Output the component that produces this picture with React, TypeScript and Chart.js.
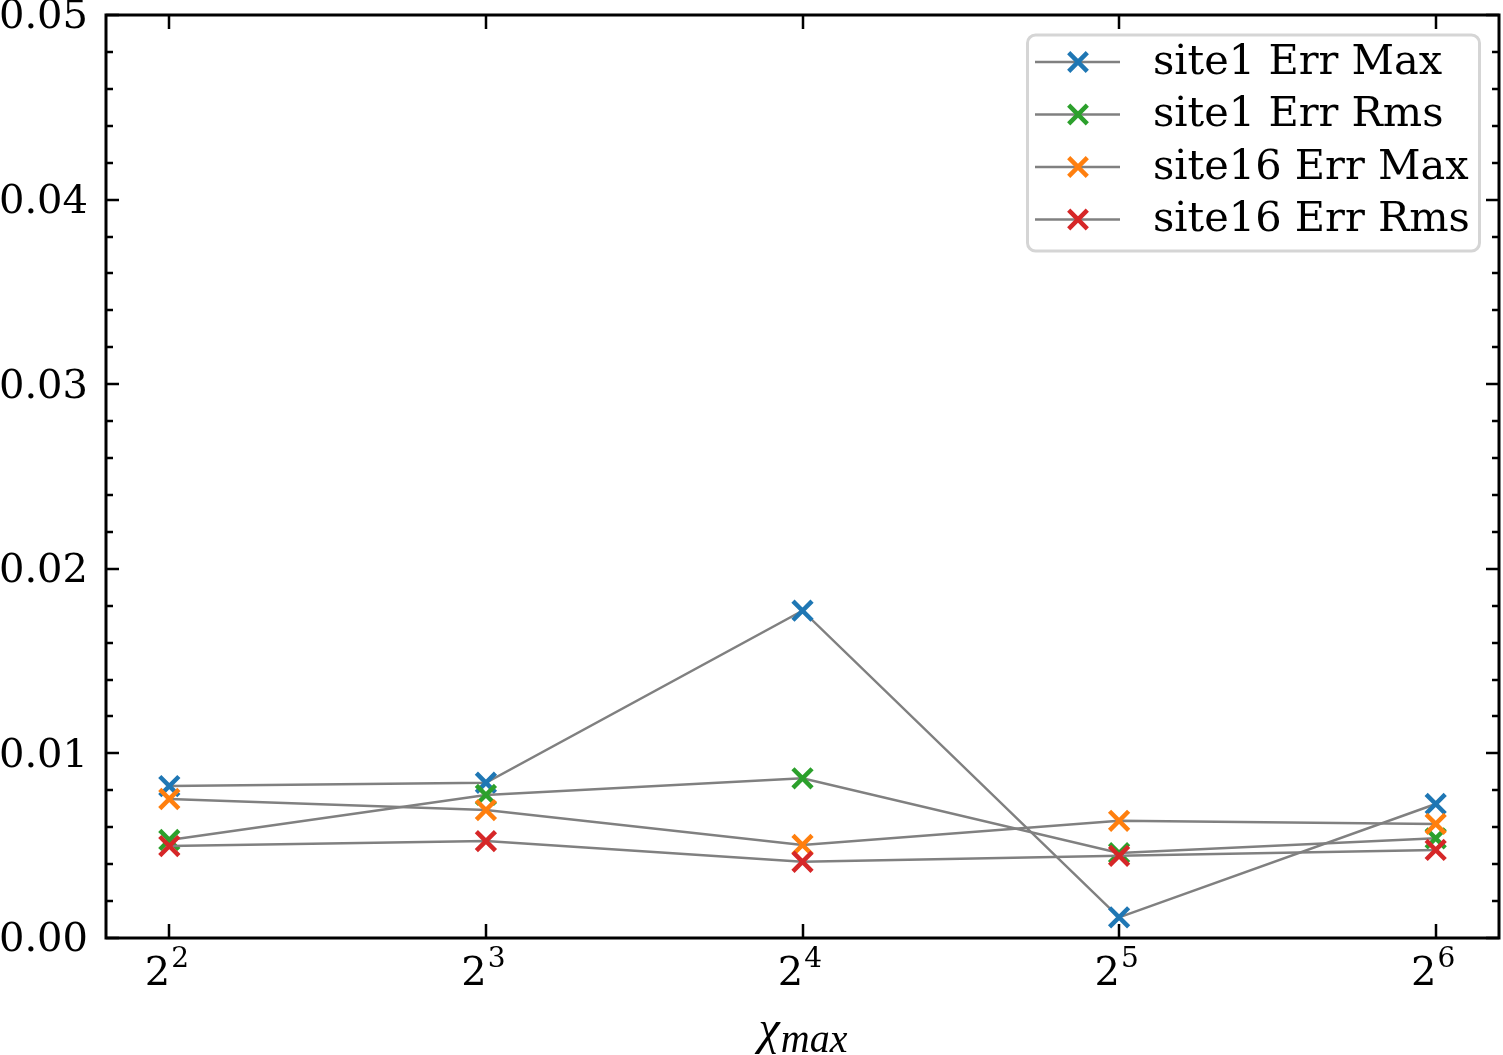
import React, { useEffect, useRef } from 'react';
import { Chart, registerables } from 'chart.js';

Chart.register(...registerables);

// ---- data ----
const chiMax = [4, 8, 16, 32, 64];
const site1ErrMax = [0.00823, 0.00841, 0.01773, 0.00112, 0.00726];
const site1ErrRms = [0.00531, 0.00775, 0.00865, 0.0046, 0.0054];
const site16ErrMax = [0.00753, 0.00693, 0.00504, 0.00635, 0.00618];
const site16ErrRms = [0.00498, 0.00525, 0.00413, 0.00445, 0.00477];
const seriesLabels = ['site1 Err Max', 'site1 Err Rms', 'site16 Err Max', 'site16 Err Rms'];
const seriesValues = [site1ErrMax, site1ErrRms, site16ErrMax, site16ErrRms];
const seriesColors = ['#1f77b4', '#2ca02c', '#ff7f0e', '#d62728'];
const yMin = 0;
const yMax = 0.05;
const yMajorStep = 0.01;
const yMinorStep = 0.002;
const xMinExp = 1.8;
const xMaxExp = 6.2;
const xTitleMain = 'χ';
const xTitleSub = 'max';

const FONT = "'DejaVu Serif', serif";
const LINE_GRAY = '#808080';

function drawX(ctx: CanvasRenderingContext2D, x: number, y: number, h: number, color: string, w: number) {
  ctx.save();
  ctx.strokeStyle = color;
  ctx.lineWidth = w;
  ctx.lineCap = 'butt';
  ctx.beginPath();
  ctx.moveTo(x - h, y - h);
  ctx.lineTo(x + h, y + h);
  ctx.moveTo(x - h, y + h);
  ctx.lineTo(x + h, y - h);
  ctx.stroke();
  ctx.restore();
}

const framePlugin = {
  id: 'mplFrame',
  afterDraw(chart: any) {
    const ctx: CanvasRenderingContext2D = chart.ctx;
    const { left, right, top, bottom } = chart.chartArea;
    const xs = chart.scales.x;
    const ys = chart.scales.y;
    ctx.save();
    // ticks
    ctx.strokeStyle = '#000';
    ctx.lineWidth = 2.5;
    ctx.lineCap = 'butt';
    const nMinor = Math.round((yMax - yMin) / yMinorStep);
    const ratio = Math.round(yMajorStep / yMinorStep);
    for (let i = 0; i <= nMinor; i++) {
      const v = yMin + i * yMinorStep;
      const y = Math.round(ys.getPixelForValue(v));
      const len = i % ratio === 0 ? 13 : 7;
      ctx.beginPath();
      ctx.moveTo(left, y);
      ctx.lineTo(left + len, y);
      ctx.moveTo(right, y);
      ctx.lineTo(right - len, y);
      ctx.stroke();
    }
    for (const t of xs.ticks) {
      const x = Math.round(xs.getPixelForValue(t.value));
      ctx.beginPath();
      ctx.moveTo(x, bottom);
      ctx.lineTo(x, bottom - 14);
      ctx.moveTo(x, top);
      ctx.lineTo(x, top + 14);
      ctx.stroke();
    }
    // frame
    ctx.lineWidth = 3;
    ctx.lineJoin = 'miter';
    ctx.strokeRect(left, top, right - left, bottom - top);

    // x tick labels: 2^n with superscript exponent
    ctx.fillStyle = '#000';
    ctx.textBaseline = 'alphabetic';
    ctx.textAlign = 'left';
    for (const t of xs.ticks) {
      const x = xs.getPixelForValue(t.value);
      const exp = String(Math.round(Math.log2(t.value)));
      ctx.font = `40px ${FONT}`;
      const wb = ctx.measureText('2').width;
      ctx.font = `28px ${FONT}`;
      const we = ctx.measureText(exp).width;
      const x0 = x - (wb + we) / 2 - 3;
      ctx.font = `40px ${FONT}`;
      ctx.fillText('2', x0, 985);
      ctx.font = `28px ${FONT}`;
      ctx.fillText(exp, x0 + wb + 1, 967);
    }

    // legend
    const lx = 1027.5, ly = 35, lw = 452, lh = 216, r = 8;
    ctx.beginPath();
    ctx.moveTo(lx + r, ly);
    ctx.lineTo(lx + lw - r, ly);
    ctx.arcTo(lx + lw, ly, lx + lw, ly + r, r);
    ctx.lineTo(lx + lw, ly + lh - r);
    ctx.arcTo(lx + lw, ly + lh, lx + lw - r, ly + lh, r);
    ctx.lineTo(lx + r, ly + lh);
    ctx.arcTo(lx, ly + lh, lx, ly + lh - r, r);
    ctx.lineTo(lx, ly + r);
    ctx.arcTo(lx, ly, lx + r, ly, r);
    ctx.closePath();
    ctx.fillStyle = 'rgba(255,255,255,0.85)';
    ctx.fill();
    ctx.strokeStyle = '#d5d5d5';
    ctx.lineWidth = 3;
    ctx.stroke();
    const datasets = chart.data.datasets;
    datasets.forEach((ds: any, i: number) => {
      const ry = 62 + i * 52.5;
      ctx.strokeStyle = LINE_GRAY;
      ctx.lineWidth = 2.5;
      ctx.beginPath();
      ctx.moveTo(1035, ry);
      ctx.lineTo(1120, ry);
      ctx.stroke();
      drawX(ctx, 1078, ry, 9.3, ds.pointBorderColor, 4.5);
      ctx.fillStyle = '#000';
      ctx.font = `41.5px ${FONT}`;
      ctx.textAlign = 'left';
      ctx.textBaseline = 'middle';
      ctx.fillText(ds.label, 1153, ry + 1);
    });

    // x-axis title
    const cx = (left + right) / 2;
    ctx.fillStyle = '#000';
    ctx.textBaseline = 'alphabetic';
    ctx.textAlign = 'left';
    const fMain = `italic 48px 'Liberation Serif', serif`;
    const fSub = `italic 40px 'Liberation Serif', serif`;
    ctx.font = fMain;
    const wMain = ctx.measureText(xTitleMain).width;
    ctx.font = fSub;
    const wSub = ctx.measureText(xTitleSub).width;
    const x0 = cx - (wMain + wSub) / 2;
    ctx.font = fMain;
    ctx.fillText(xTitleMain, x0, 1044);
    ctx.font = fSub;
    ctx.fillText(xTitleSub, x0 + wMain + 1, 1052);
    ctx.restore();
  },
};

export default function App() {
  const ref = useRef<HTMLCanvasElement | null>(null);
  useEffect(() => {
    if (!ref.current) return;
    Chart.defaults.font.family = FONT;
    const datasets = seriesLabels.map((label, i) => ({
      label,
      data: chiMax.map((x, j) => ({ x, y: seriesValues[i][j] })),
      borderColor: LINE_GRAY,
      borderWidth: 2.5,
      pointStyle: 'crossRot',
      pointRadius: 13.5,
      pointHoverRadius: 13.5,
      pointBorderWidth: 4.5,
      pointBorderColor: seriesColors[i],
      pointBackgroundColor: seriesColors[i],
      tension: 0,
      fill: false,
      order: seriesLabels.length - i,
      clip: false as any,
    }));
    const chart = new Chart(ref.current, {
      type: 'line',
      data: { datasets },
      options: {
        responsive: false,
        animation: false,
        events: [],
        layout: { autoPadding: false, padding: { left: 0, top: 15, right: 4, bottom: 0 } },
        plugins: { legend: { display: false }, tooltip: { enabled: false }, title: { display: false } },
        scales: {
          x: {
            type: 'logarithmic',
            min: Math.pow(2, xMinExp),
            max: Math.pow(2, xMaxExp),
            afterBuildTicks: (scale: any) => {
              scale.ticks = chiMax.map((v) => ({ value: v }));
            },
            afterFit: (scale: any) => {
              scale.height = 117;
              scale.paddingLeft = 0;
              scale.paddingRight = 0;
              scale.paddingTop = 0;
              scale.paddingBottom = 0;
            },
            grid: { display: false, drawTicks: false },
            border: { display: false },
            ticks: {
              display: false,
              autoSkip: false,
              maxRotation: 0,
            },
          },
          y: {
            type: 'linear',
            min: yMin,
            max: yMax,
            afterFit: (scale: any) => {
              scale.width = 106;
              scale.paddingLeft = 0;
              scale.paddingRight = 0;
              scale.paddingTop = 0;
              scale.paddingBottom = 0;
            },
            grid: { display: false, drawTicks: false },
            border: { display: false },
            ticks: {
              stepSize: yMajorStep,
              padding: 18,
              labelOffset: 3,
              color: '#000',
              font: { size: 40, family: FONT },
              callback: (v: any) => Number(v).toFixed(2),
            },
          },
        },
      } as any,
      plugins: [framePlugin],
    });
    return () => chart.destroy();
  }, []);
  return (
    <canvas
      ref={ref}
      width={1503}
      height={1055}
      style={{ position: 'absolute', left: 0, top: 0, display: 'block', background: '#fff' }}
    />
  );
}
